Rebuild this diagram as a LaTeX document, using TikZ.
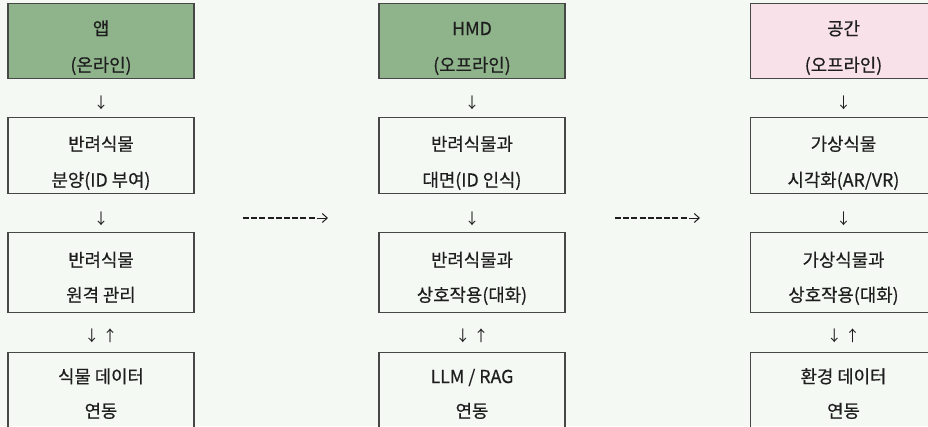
\documentclass[tikz,border=0pt]{standalone}
\usepackage{fontspec}
\setmainfont{Noto Sans CJK KR}[FakeBold=0.5]
\newfontfamily\arrfont{Noto Sans CJK KR}
\usetikzlibrary{arrows.meta}
\definecolor{bgc}{HTML}{F5F9F4}
\definecolor{greenc}{HTML}{8FB38B}
\definecolor{pinkc}{HTML}{F8E1E9}
\definecolor{edgec}{HTML}{474747}
\definecolor{txtc}{HTML}{1E1E1E}
\begin{document}
\begin{tikzpicture}[x=1pt,y=-1pt,
  box/.style={draw=edgec, line width=1.1pt, minimum width=186pt, anchor=north, inner sep=0pt},
  lbl/.style={anchor=base, font=\fontsize{17.8}{19}\selectfont, text=txtc, inner sep=0pt},
  arr/.style={anchor=base, font=\arrfont\fontsize{15}{16}\selectfont, text=txtc, inner sep=0pt},
  dashline/.style={draw=txtc, line width=1.1pt, dash pattern=on 6pt off 2.2pt},
  tipline/.style={draw=txtc, line width=1pt, -{Straight Barb[length=5pt,width=9pt]}}]
\fill[bgc] (0,0) rectangle (928,426);
\useasboundingbox (0,0) rectangle (928,426);
\begin{scope}
\clip (0,0) rectangle (928,426);
% column 1
\node[box, fill=greenc, minimum height=75pt] (a1) at (101,3) {};
\node[box, minimum height=76pt] (a2) at (101,117) {};
\node[box, minimum height=80pt] (a3) at (101,232) {};
\node[box, minimum height=80pt] (a4) at (101,352) {};
% column 2
\node[box, fill=greenc, minimum height=75pt] (b1) at (472,3) {};
\node[box, minimum height=76pt] (b2) at (472,117) {};
\node[box, minimum height=80pt] (b3) at (472,232) {};
\node[box, minimum height=80pt] (b4) at (472,352) {};
% column 3
\node[box, fill=pinkc, minimum height=75pt] (c1) at (843.5,3) {};
\node[box, minimum height=76pt] (c2) at (843.5,117) {};
\node[box, minimum height=80pt] (c3) at (843.5,232) {};
\node[box, minimum height=80pt] (c4) at (843.5,352) {};
\end{scope}
% texts column 1
\node[lbl] (a1t) at (101,35) {앱};
\node[lbl] (a1u) at (101,71.5) {(온라인)};
\node[lbl] (a2t) at (101,150.5) {반려식물};
\node[lbl] (a2u) at (101,186.5) {분양(ID 부여)};
\node[lbl] (a3t) at (101,266.5) {반려식물};
\node[lbl] (a3u) at (101,301.5) {원격 관리};
\node[lbl] (a4t) at (101,383) {식물 데이터};
\node[lbl] (a4u) at (101,417.5) {연동};
% texts column 2
\node[lbl] (b1t) at (472,35) {HMD};
\node[lbl] (b1u) at (472,71.5) {(오프라인)};
\node[lbl] (b2t) at (472,150.5) {반려식물과};
\node[lbl] (b2u) at (472,186.5) {대면(ID 인식)};
\node[lbl] (b3t) at (472,266.5) {반려식물과};
\node[lbl] (b3u) at (472,301.5) {상호작용(대화)};
\node[lbl] (b4t) at (472,383) {LLM / RAG};
\node[lbl] (b4u) at (472,417.5) {연동};
% texts column 3
\node[lbl] (c1t) at (843.5,35) {공간};
\node[lbl] (c1u) at (843.5,71.5) {(오프라인)};
\node[lbl] (c2t) at (843.5,150.5) {가상식물};
\node[lbl] (c2u) at (843.5,186.5) {시각화(AR/VR)};
\node[lbl] (c3t) at (843.5,266.5) {가상식물과};
\node[lbl] (c3u) at (843.5,301.5) {상호작용(대화)};
\node[lbl] (c4t) at (843.5,383) {환경 데이터};
\node[lbl] (c4u) at (843.5,417.5) {연동};
% vertical arrows
\foreach \col/\x in {a/101,b/472,c/843.5}{
  \node[arr] (\col d1) at (\x,108.5) {↓};
  \node[arr] (\col d2) at (\x,224.5) {↓};
  \node[arr] (\col d3) at (\x,341.5) {↓ ↑};
}
% dashed arrows between columns
\coordinate (p1) at (243,218);
\coordinate (p1m) at (315,218);
\coordinate (p1n) at (316.5,218);
\coordinate (p1e) at (328,218);
\coordinate (p2) at (615,218);
\coordinate (p2m) at (687,218);
\coordinate (p2n) at (688.5,218);
\coordinate (p2e) at (700,218);
\draw[dashline] (p1) -- (p1m);
\draw[tipline] (p1n) -- (p1e);
\draw[dashline] (p2) -- (p2m);
\draw[tipline] (p2n) -- (p2e);
\end{tikzpicture}
\end{document}
